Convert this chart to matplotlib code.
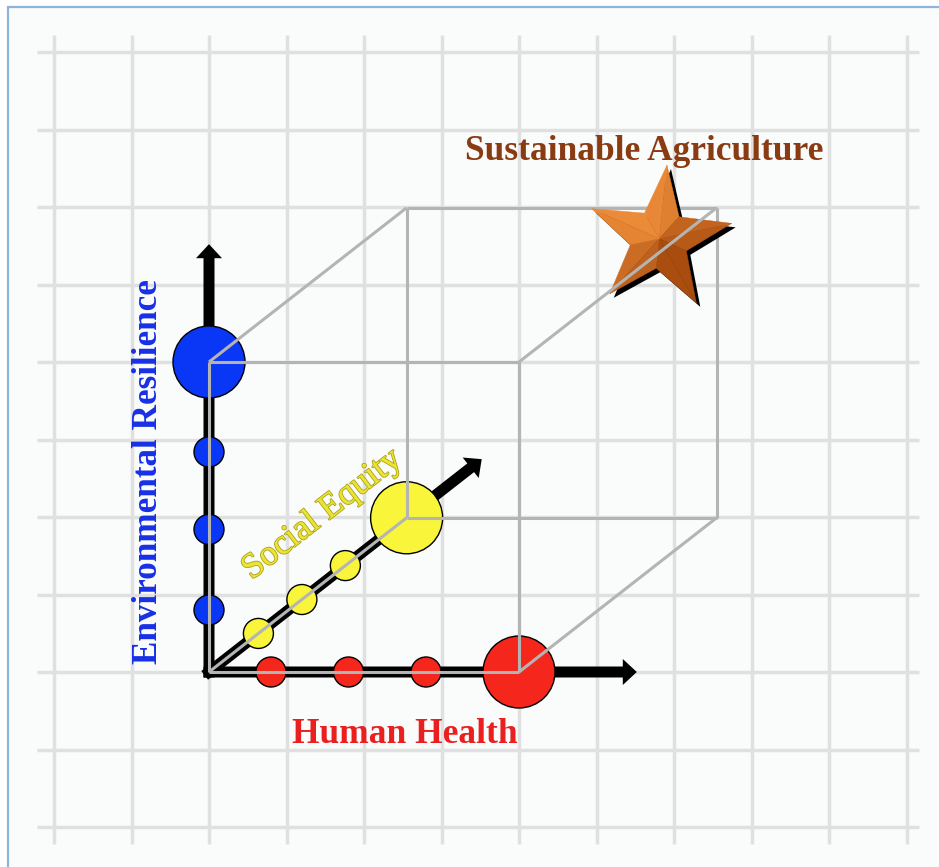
import numpy as np
import matplotlib
matplotlib.use("Agg")
import matplotlib.pyplot as plt
from matplotlib.patches import Rectangle, Polygon, FancyArrow
import matplotlib.patheffects as pe

# ---------------- data ----------------
health = [0.2, 0.45, 0.7, 1.0]          # red points along Human Health axis
resilience = [0.2, 0.46, 0.71, 1.0]     # blue points along Environmental Resilience axis
equity = [0.25, 0.47, 0.69, 1.0]        # yellow points along Social Equity axis
point_kind = ["small", "small", "small", "big"]
goal = (1.0, 1.0, 1.0)                  # Sustainable Agriculture corner
axis_length = 1.38

label_health = "Human Health"
label_resilience = "Environmental Resilience"
label_equity = "Social Equity"
label_goal = "Sustainable Agriculture"

# ---------------- layout ----------------
W, H, DPI = 939, 867, 100
PX = 77.5                 # pixels per grid cell
OX, OY = 209, 672         # pixel position of origin
SCALE = 4.0               # cells per unit on front axes
DX, DY = 2.55, 1.99       # oblique depth vector (cells per unit)


def proj(h, r, e):
    return SCALE * h + DX * e, SCALE * r + DY * e


fig = plt.figure(figsize=(W / DPI, H / DPI), dpi=DPI)
fig.patch.set_facecolor("white")
ax = fig.add_axes([0, 0, 1, 1])
ax.set_xlim(-OX / PX, (W - OX) / PX)
ax.set_ylim(-(H - OY) / PX, OY / PX)
ax.axis("off")
ax.patch.set_visible(False)

# page frame
fig.add_artist(Rectangle((8 / W, -0.05), 1.2, (H - 7) / H + 0.05,
                         transform=fig.transFigure, facecolor="#fafbfb",
                         edgecolor="#8fb4dc", lw=1.6, zorder=0))

# grid
grid_kw = dict(color="#e0e0e0", lw=2.5, solid_capstyle="butt", zorder=1)
for gx in range(-2, 10):
    ax.plot([gx, gx], [-2.22, 8.22], **grid_kw)
for gy in range(-2, 9):
    ax.plot([-2.22, 9.16], [gy, gy], **grid_kw)

# black axes with arrows
shaft = 11 / PX
head_w = 26 / PX
head_l = 14 / PX
half = shaft / 2
for end in [(axis_length, 0, 0), (0, axis_length, 0), (0, 0, axis_length)]:
    tx, ty = proj(*end)
    L = np.hypot(tx, ty)
    ux, uy = tx / L, ty / L
    sx, sy = -ux * half, -uy * half
    ax.add_patch(FancyArrow(sx, sy, tx - sx, ty - sy, width=shaft,
                            head_width=head_w, head_length=head_l,
                            length_includes_head=True, color="black",
                            lw=0, zorder=2))

# points
size_px = {"small": 30, "big": 72}
sizes = [(size_px[k] * 72 / DPI) ** 2 for k in point_kind]
series = [
    ([proj(v, 0, 0) for v in health], "#f5261b"),
    ([proj(0, v, 0) for v in resilience], "#0a37f5"),
    ([proj(0, 0, v) for v in equity], "#f8f53a"),
]
for pts, col in series:
    xs, ys = zip(*pts)
    ax.scatter(xs, ys, s=sizes, c=col, edgecolors="black", linewidths=1.0,
               zorder=3)

# cube edges
corners = {(a, b, c): proj(a, b, c) for a in (0, 1) for b in (0, 1) for c in (0, 1)}
edges = []
for k1 in corners:
    for k2 in corners:
        if k1 < k2 and sum(abs(i - j) for i, j in zip(k1, k2)) == 1:
            edges.append((k1, k2))
over_star = ((1, 1, 0), (1, 1, 1))
for k1, k2 in edges:
    (x1, y1), (x2, y2) = corners[k1], corners[k2]
    z = 6 if (k1, k2) == over_star else 4
    ax.plot([x1, x2], [y1, y2], color="#b4b4b4", lw=2.2,
            solid_capstyle="butt", zorder=z)

# star for Sustainable Agriculture
gx, gy = proj(*goal)
cx, cy = gx - 0.74, gy - 0.40
R_out = 74 / PX
R_in = R_out * 0.40
rot = np.deg2rad(-6)
outer = []
inner = []
for k in range(5):
    a = np.pi / 2 + rot - k * 2 * np.pi / 5
    outer.append((cx + R_out * np.cos(a), cy + R_out * np.sin(a)))
    b = a - np.pi / 5
    inner.append((cx + R_in * np.cos(b), cy + R_in * np.sin(b)))
verts = []
for k in range(5):
    verts.append(outer[k])
    verts.append(inner[k])
sh = 4 / PX
ax.add_patch(Polygon([(x + sh, y - sh) for x, y in verts], closed=True,
                     facecolor="black", edgecolor="none", zorder=4.5))
light = np.array([-0.6, 0.8])
dark_c = np.array([0.66, 0.30, 0.06])
light_c = np.array([0.93, 0.55, 0.22])
for k in range(5):
    tip = np.array(outer[k])
    for nb in (inner[k], inner[k - 1]):
        nb = np.array(nb)
        mid = (tip + nb) / 2 - np.array([cx, cy])
        mid = mid / np.linalg.norm(mid)
        t = (np.dot(mid, light) + 1) / 2
        col = dark_c + (light_c - dark_c) * t
        ax.add_patch(Polygon([(cx, cy), tuple(tip), tuple(nb)], closed=True,
                             facecolor=col, edgecolor=col, lw=0.3, zorder=5))

# labels
serif = ["Liberation Serif", "DejaVu Serif"]
ax.text(5.61, 6.72, label_goal, color="#8a3b12", fontsize=25.5,
        fontweight="bold", family=serif, ha="center", va="center", zorder=7)
ax.text(2.53, -0.81, label_health, color="#ea2020", fontsize=25.5,
        fontweight="bold", family=serif, ha="center", va="center", zorder=7)
ax.text(-0.78, 2.58, label_resilience, color="#1730e6", fontsize=25.3,
        fontweight="bold", family=serif, ha="center", va="center",
        rotation=90, zorder=7)
ax.text(1.46, 2.03, label_equity, color="#ece432", fontsize=25.5,
        family=serif, ha="center", va="center", rotation=37.8, zorder=7,
        path_effects=[pe.withStroke(linewidth=1.2, foreground="#aaa318")])

fig.savefig("out.png", dpi=DPI)
